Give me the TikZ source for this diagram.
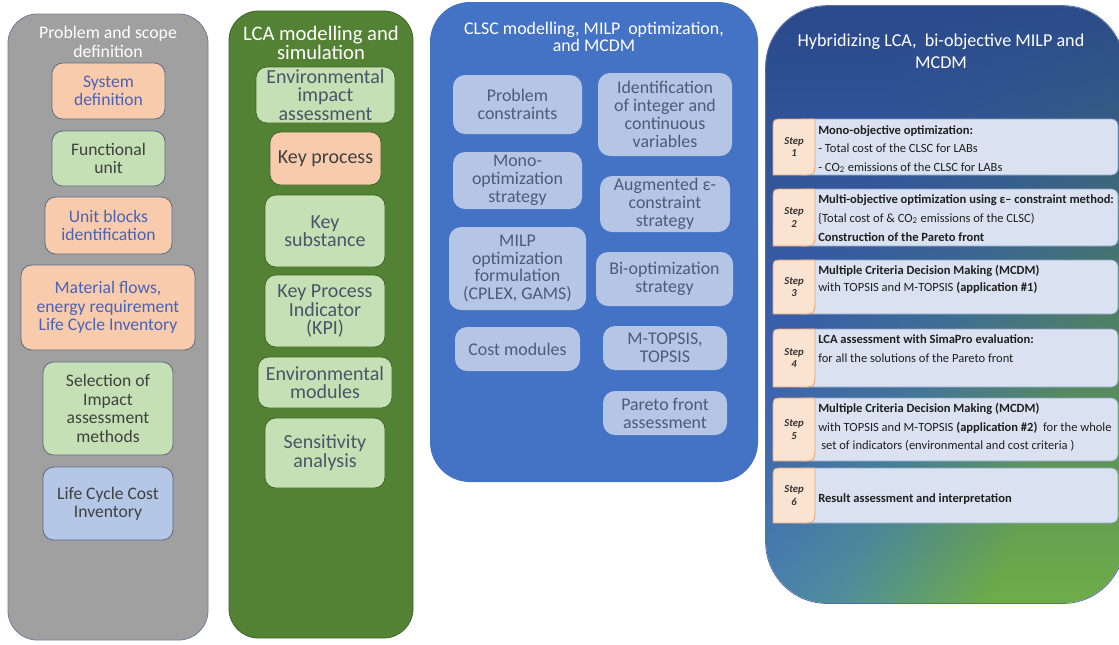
\documentclass[tikz,border=0pt]{standalone}
\usepackage{fontspec}
\setmainfont{Carlito}
\usetikzlibrary{fadings}
\definecolor{pgray}{HTML}{A0A0A0}
\definecolor{pgrayd}{HTML}{6F7F99}
\definecolor{pgreen}{HTML}{548235}
\definecolor{pgreend}{HTML}{3E6428}
\definecolor{pblue}{HTML}{4472C4}
\definecolor{orfill}{HTML}{F8CBAD}
\definecolor{grfill}{HTML}{C5E0B4}
\definecolor{blfill}{HTML}{B4C7E7}
\definecolor{bxline}{HTML}{5B6B85}
\definecolor{ortext}{HTML}{4A63B5}
\definecolor{dtext}{HTML}{404040}
\definecolor{p2text}{HTML}{4A5568}
\definecolor{p3fill}{HTML}{B4C5E6}
\definecolor{p3text}{HTML}{4D5B78}
\definecolor{hnavy}{HTML}{2A4889}
\definecolor{hblue}{HTML}{4472C4}
\definecolor{hteal}{HTML}{50909A}
\definecolor{hgreen}{HTML}{6FAD48}
\definecolor{rowfill}{HTML}{DAE2F1}
\definecolor{rowline}{HTML}{8FA2C4}
\definecolor{tabfill}{HTML}{FBE3D2}
\definecolor{tabline}{HTML}{E9A270}
\pgfdeclarehorizontalshading{hybh}{100bp}{color(0bp)=(hblue); color(34bp)=(hblue); color(52bp)=(hteal); color(68bp)=(hgreen); color(100bp)=(hgreen)}
\tikzfading[name=topfade, top color=transparent!5, middle color=transparent!80, bottom color=transparent!100]
\newcommand\pbox[7]{\node[#2, minimum width={(#5-#3)*0.75pt}, minimum height={(#6-#4)*0.75pt}] (#1) at ({(#3+#5)/2},{(#4+#6)/2}) {#7};}
\newcommand\steptab[4]{% name, top, bottom, number
  \draw[tabsty] (773,{#3}) -- (773,{#2+10}) .. controls (773,#2) .. (783,#2) -- (815,#2) -- (815,{#3-15}) .. controls (815,#3) .. (801,#3) -- cycle;
  \node[steplbl] (#1) at (794,{(#2+#3)/2}) {Step\\#4};}
\tikzset{
  panelsty/.style={inner sep=0pt, line width=0.6pt},
  bxsty/.style={rounded corners=8pt, inner sep=0pt, align=center, line width=0.6pt, draw=bxline},
  bxo/.style={bxsty, fill=orfill, text=ortext, font=\fontsize{13.2}{13.8}\selectfont},
  bxg/.style={bxsty, fill=grfill, text=dtext, font=\fontsize{13.2}{13.8}\selectfont},
  bxb/.style={bxsty, fill=blfill, text=dtext, font=\fontsize{13.2}{13.8}\selectfont},
  bxg2/.style={bxsty, draw=pgreend, fill=grfill, text=p2text, font=\fontsize{15}{14}\selectfont},
  bxo2/.style={bxsty, draw=pgreend, fill=orfill, text=dtext, font=\fontsize{15}{14}\selectfont},
  bxp3/.style={rounded corners=9pt, inner sep=0pt, align=center, fill=p3fill, text=p3text, font=\fontsize{13.4}{13.4}\selectfont},
  ttl/.style={text=white, align=center, inner sep=0pt},
  rowsty/.style={rounded corners=5pt, inner sep=0pt, fill=rowfill, draw=rowline, line width=0.5pt},
  tabsty/.style={fill=tabfill, draw=tabline, line width=0.6pt},
  steplbl/.style={align=center, inner sep=0pt, text=black!80, font=\fontsize{8}{9.5}\selectfont\bfseries\itshape},
  stxt/.style={anchor=base west, inner sep=0pt, text=black!88, font=\fontsize{9.4}{13}\selectfont},
}
\begin{document}
\begin{tikzpicture}[x=0.75pt, y=-0.75pt]
\useasboundingbox (0,0) rectangle (1119,644);
\clip (0,0) rectangle (1119,644);
\fill[white] (0,0) rectangle (1119,644);
% panels
\pbox{p1}{panelsty, rounded corners=22pt, fill=pgray, draw=pgrayd}{8}{14}{208}{640}{}
\pbox{p2}{panelsty, rounded corners=22pt, fill=pgreen, draw=pgreend}{229}{11}{413}{638}{}
\pbox{p3}{panelsty, rounded corners=30pt, fill=pblue}{430}{2}{758}{482}{}
\pbox{p4}{panelsty, rounded corners=46pt, shading=hybh, shading angle=-22}{766}{6}{1124}{603}{}
\fill[hnavy, rounded corners=46pt, path fading=topfade] (p4.north west) rectangle (p4.south east);
\draw[hnavy!80, line width=0.6pt, rounded corners=46pt] (p4.north west) rectangle (p4.south east);
% titles
\node[ttl, font=\fontsize{13.3}{14.2}\selectfont] (t1) at (108,42) {Problem and scope\\definition};
\node[ttl, font=\fontsize{15.5}{14.5}\selectfont] (t2) at (321,43) {LCA modelling and\\simulation};
\node[ttl, font=\fontsize{13.4}{13}\selectfont] (t3) at (594,37) {CLSC modelling, MILP\ \ optimization,\\and MCDM};
\node[ttl, font=\fontsize{13.6}{16.3}\selectfont] (t4) at (941,51) {Hybridizing LCA,\ \ bi-objective MILP and\\MCDM};
% panel 1
\pbox{a1}{bxo}{52}{63}{165}{119}{System\\definition}
\pbox{a2}{bxg}{52}{131}{165}{186}{Functional\\unit}
\pbox{a3}{bxo}{45}{197}{172}{254}{Unit blocks\\identification}
\pbox{a4}{bxo}{21}{265}{195}{350}{Material flows,\\energy requirement\\Life Cycle Inventory}
\pbox{a5}{bxg}{43}{362}{173}{455}{Selection of\\Impact\\assessment\\methods}
\pbox{a6}{bxb}{43}{467}{173}{540}{Life Cycle Cost\\Inventory}
% panel 2
\pbox{b1}{bxg2}{256}{67}{395}{123}{Environmental\\impact\\assessment}
\pbox{b2}{bxo2}{270}{132}{381}{185}{Key process}
\pbox{b3}{bxg2}{265}{195}{385}{267}{Key\\substance}
\pbox{b4}{bxg2}{265}{275}{385}{347}{Key Process\\Indicator\\(KPI)}
\pbox{b5}{bxg2}{258}{357}{392}{408}{Environmental\\modules}
\pbox{b6}{bxg2}{265}{418}{385}{488}{Sensitivity\\analysis}
% panel 3
\pbox{c1}{bxp3}{453}{75}{582}{134}{Problem\\constraints}
\pbox{c2}{bxp3}{598}{73}{732}{156}{Identification\\of integer and\\continuous\\variables}
\pbox{c3}{bxp3}{453}{152}{582}{209}{Mono-\\optimization\\strategy}
\pbox{c4}{bxp3}{600}{176}{730}{232}{Augmented ε-\\constraint\\strategy}
\pbox{c5}{bxp3}{449}{227}{586}{310}{MILP\\optimization\\formulation\\(CPLEX, GAMS)}
\pbox{c6}{bxp3}{596}{252}{733}{306}{Bi-optimization\\strategy}
\pbox{c7}{bxp3}{455}{327}{580}{371}{Cost modules}
\pbox{c8}{bxp3}{603}{326}{727}{370}{M-TOPSIS,\\TOPSIS}
\pbox{c9}{bxp3}{603}{391}{727}{435}{Pareto front\\assessment}
% panel 4 rows
\pbox{r1}{rowsty}{795}{119}{1118}{175}{}
\pbox{r2}{rowsty}{795}{189}{1118}{246}{}
\pbox{r3}{rowsty}{795}{260}{1118}{314}{}
\pbox{r4}{rowsty}{795}{329}{1118}{387}{}
\pbox{r5}{rowsty}{795}{398}{1118}{461}{}
\pbox{r6}{rowsty}{795}{468}{1118}{523}{}
\steptab{s1}{119}{175}{1}
\steptab{s2}{189}{246}{2}
\steptab{s3}{260}{314}{3}
\steptab{s4}{329}{387}{4}
\steptab{s5}{398}{461}{5}
\steptab{s6}{468}{523}{6}
% row texts
\node[stxt] (r1a) at (818,134) {\textbf{Mono-objective optimization:}};
\node[stxt] (r1b) at (818,152) {- Total cost of the CLSC for LABs};
\node[stxt] (r1c) at (818,171) {- CO\textsubscript{2} emissions of the CLSC for LABs};
\node[stxt] (r2a) at (818,203) {\textbf{Multi-objective optimization using ε– constraint method:}};
\node[stxt] (r2b) at (818,222) {\{Total cost of \& CO\textsubscript{2} emissions of the CLSC)};
\node[stxt] (r2c) at (818,241) {\textbf{Construction of the Pareto front}};
\node[stxt] (r3a) at (818,274) {\textbf{Multiple Criteria Decision Making (MCDM)}};
\node[stxt] (r3b) at (818,291) {with TOPSIS and M-TOPSIS \textbf{(application \#1)}};
\node[stxt] (r4a) at (818,343) {\textbf{LCA assessment with SimaPro evaluation:}};
\node[stxt] (r4b) at (818,362) {for all the solutions of the Pareto front};
\node[stxt] (r5a) at (818,412) {\textbf{Multiple Criteria Decision Making (MCDM)}};
\node[stxt] (r5b) at (818,431) {with TOPSIS and M-TOPSIS \textbf{(application \#2)}\ \ for the whole};
\node[stxt] (r5c) at (821,449) {set of indicators (environmental and cost criteria )};
\node[stxt] (r6a) at (818,502) {\textbf{Result assessment and interpretation}};
\end{tikzpicture}
\end{document}
